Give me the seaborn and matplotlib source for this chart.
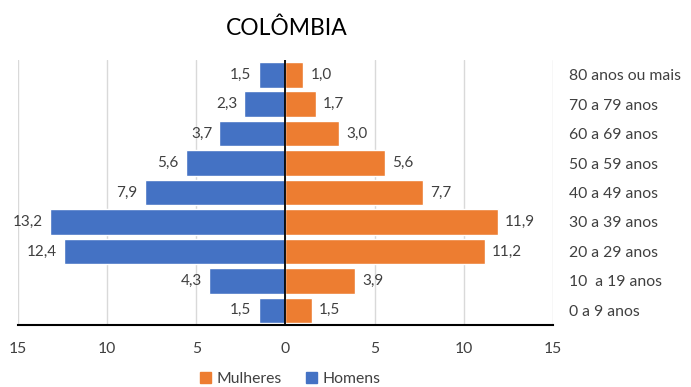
import seaborn as sns
import matplotlib.pyplot as plt
import pandas as pd
from matplotlib.patches import Patch
from matplotlib.ticker import FuncFormatter

faixas = ["80 anos ou mais", "70 a 79 anos", "60 a 69 anos", "50 a 59 anos",
          "40 a 49 anos", "30 a 39 anos", "20 a 29 anos", "10  a 19 anos", "0 a 9 anos"]
homens = [1.5, 2.3, 3.7, 5.6, 7.9, 13.2, 12.4, 4.3, 1.5]
mulheres = [1.0, 1.7, 3.0, 5.6, 7.7, 11.9, 11.2, 3.9, 1.5]

azul = "#4472C4"
laranja = "#ED7D31"

sns.set_style("white")
plt.rcParams['font.family'] = ['Lato', 'DejaVu Sans']

df = pd.DataFrame({"faixa": faixas, "homens": [-h for h in homens], "mulheres": mulheres})

fig = plt.figure(figsize=(6.91, 3.87), dpi=100)
ax = fig.add_axes([0.026, 0.160, 0.774, 0.685])

sns.barplot(data=df, y="faixa", x="homens", color=azul, width=0.87,
            orient="h", ax=ax, saturation=1)
sns.barplot(data=df, y="faixa", x="mulheres", color=laranja, width=0.87,
            orient="h", ax=ax, saturation=1)

for i, (h, m) in enumerate(zip(homens, mulheres)):
    ax.text(-h - 0.4, i, f"{h:.1f}".replace(".", ","), ha="right", va="center",
            fontsize=11, color="#404040")
    ax.text(m + 0.4, i, f"{m:.1f}".replace(".", ","), ha="left", va="center",
            fontsize=11, color="#404040")

ax.set_xlim(-15, 15)
ax.set_xticks([-15, -10, -5, 0, 5, 10, 15])
ax.xaxis.set_major_formatter(FuncFormatter(lambda v, p: f"{abs(v):g}"))
ax.grid(axis="x", color="#D9D9D9", linewidth=1)
ax.set_axisbelow(True)
ax.axvline(0, color="black", linewidth=1.3, zorder=5)

ax.yaxis.tick_right()
ax.set_ylabel("")
ax.set_xlabel("")
ax.tick_params(axis="both", length=0, labelsize=11.3, labelcolor="#404040")
ax.tick_params(axis="y", pad=12)
ax.tick_params(axis="x", pad=12)

for s in ["top", "left", "right"]:
    ax.spines[s].set_visible(False)
ax.spines["bottom"].set_color("black")
ax.spines["bottom"].set_linewidth(1.5)

fig.text(0.415, 0.928, "COLÔMBIA", ha="center", va="center", fontsize=16.5, color="black")

handles = [Patch(color=laranja, label="Mulheres"), Patch(color=azul, label="Homens")]
fig.legend(handles=handles, loc="lower center", bbox_to_anchor=(0.42, -0.035), ncol=2,
           frameon=False, fontsize=11.3, handlelength=0.7, handleheight=0.7,
           handletextpad=0.4, columnspacing=1.5, labelcolor="#404040")

fig.savefig("out.png", dpi=100)
